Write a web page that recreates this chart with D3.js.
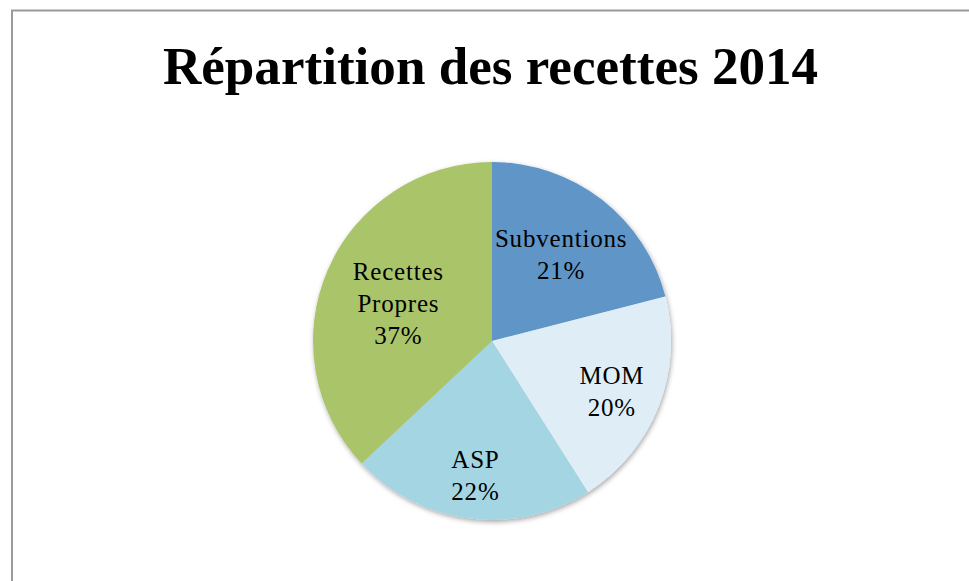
<!DOCTYPE html>
<html>
<head>
<meta charset="utf-8">
<script src="https://cdn.jsdelivr.net/npm/d3@7"></script>
<style>
  body { margin: 0; background: #fff; }
</style>
</head>
<body>
<div id="chart"></div>
<script>
// Data
const categories = ["Subventions", "MOM", "ASP", "Recettes Propres"];
const shares = [21, 20, 22, 37];
const sliceColors = ["#6095c8", "#dfeef6", "#a4d5e3", "#aac46b"];
const labelLines = [["Subventions"], ["MOM"], ["ASP"], ["Recettes", "Propres"]];
const chartTitle = "Répartition des recettes 2014";

// Dimensions
let dimensions = {
    width: 969,
    height: 581,
    cx: 492,
    cy: 341,
    radius: 179,
}

// how far out each label sits, as share of radius (Excel "best fit")
const labelRadius = {
    "Subventions": 0.63,
    "MOM": 0.72,
    "ASP": 0.74,
    "Recettes Propres": 0.57,
}

const fontFamily = "'Liberation Serif', 'DejaVu Serif', serif";

const svg = d3.select("#chart")
    .append("svg")
        .attr("width", dimensions.width)
        .attr("height", dimensions.height)

// drop shadow for the pie
const defs = svg.append("defs")
defs.append("filter")
    .attr("id", "shadow")
    .attr("x", "-20%").attr("y", "-20%")
    .attr("width", "140%").attr("height", "140%")
  .append("feDropShadow")
    .attr("dx", 1)
    .attr("dy", 2)
    .attr("stdDeviation", 2.5)
    .attr("flood-color", "#000")
    .attr("flood-opacity", 0.35)

// Chart frame (only left + top edges are visible in the crop)
svg.append("rect")
    .attr("x", 12)
    .attr("y", 10.5)
    .attr("width", dimensions.width + 20)
    .attr("height", dimensions.height + 20)
    .attr("fill", "none")
    .attr("stroke", "#9a9a9a")
    .attr("stroke-width", 2)

// Title
const title = svg.append("text")
    .attr("x", 490.5)
    .attr("y", 84)
    .attr("text-anchor", "middle")
    .style("font-family", fontFamily)
    .style("font-weight", "bold")
    .style("font-size", "47px")
    .attr("fill", "#000")
    .text(chartTitle)

// fit title to the width seen in the reference
const titleWidth = title.node().getComputedTextLength();
title.style("font-size", (47 * 655 / titleWidth).toFixed(1) + "px")

// Pie
const data = categories.map((c, i) => ({
    category: c,
    value: shares[i],
    color: sliceColors[i],
    lines: labelLines[i],
}))

const pie = d3.pie()
    .sort(null)
    .value(d => d.value)

const arc = d3.arc()
    .innerRadius(0)
    .outerRadius(dimensions.radius)

const arcs = pie(data);

const bounds = svg.append("g")
    .attr("transform", `translate(${dimensions.cx}, ${dimensions.cy})`)

bounds.append("g")
    .attr("filter", "url(#shadow)")
    .selectAll("path")
    .data(arcs)
    .join("path")
        .attr("d", arc)
        .attr("fill", d => d.data.color)

// Labels
const labelSize = 25;
const lineHeight = 32;

const labels = bounds.append("g")
    .selectAll("text")
    .data(arcs)
    .join("text")
        .attr("text-anchor", "middle")
        .style("font-family", fontFamily)
        .style("font-size", labelSize + "px")
        .style("letter-spacing", "0.8px")
        .attr("fill", "#000")
        .attr("transform", d => {
            const mid = (d.startAngle + d.endAngle) / 2;
            const r = dimensions.radius * labelRadius[d.data.category];
            return `translate(${Math.sin(mid) * r}, ${-Math.cos(mid) * r})`
        })

labels.each(function(d) {
    const lines = d.data.lines.concat([d3.format(".0f")(d.data.value) + "%"]);
    const n = lines.length;
    d3.select(this).selectAll("tspan")
        .data(lines)
        .join("tspan")
            .attr("x", 0)
            .attr("y", (t, i) => (i - (n - 1) / 2) * lineHeight + labelSize * 0.46)
            .text(t => t)
})
</script>
</body>
</html>
